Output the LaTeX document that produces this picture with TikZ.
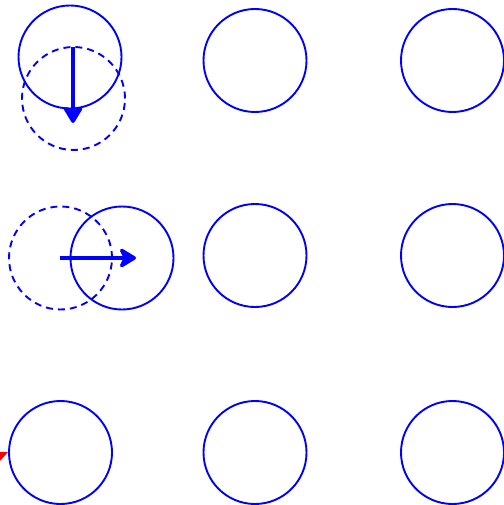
\documentclass[tikz,border=0pt]{standalone}
\usetikzlibrary{arrows.meta}
\begin{document}
\begin{tikzpicture}[x=1pt,y=-1pt,
  ring/.style={circle,draw=blue,line width=1.9pt,minimum size=103pt,inner sep=0pt},
  ghost/.style={ring,dash pattern=on 7pt off 5pt},
  move/.style={draw=blue,line width=4.5pt,-{Stealth[length=20pt,width=24pt,inset=6pt,round]}}]
\useasboundingbox (0,0) rectangle (503,505);
% top row
\node[ring] (a1) at (70,57) {};
\node[ghost] (a1g) at (73.5,98.5) {};
\node[ring] (b1) at (255,60.5) {};
\node[ring] (c1) at (452.5,60.5) {};
% middle row
\node[ghost] (a2g) at (60.5,258) {};
\node[ring] (a2) at (122,258) {};
\node[ring] (b2) at (255,255.5) {};
\node[ring] (c2) at (452.5,255.5) {};
% bottom row
\node[ring] (a3) at (60.5,452.5) {};
\node[ring] (b3) at (255,452.5) {};
\node[ring] (c3) at (452.5,452.5) {};
% motion arrows
\coordinate (s1) at (73,47);
\coordinate (e1) at (73,123);
\draw[move] (s1) -- (e1);
\coordinate (s2) at (60,258);
\coordinate (e2) at (136,258);
\draw[move] (s2) -- (e2);
% red tip
\fill[red] (a3.west) ++(0,-0.5) -- (0,452) -- (0,461) -- cycle;
\end{tikzpicture}
\end{document}
